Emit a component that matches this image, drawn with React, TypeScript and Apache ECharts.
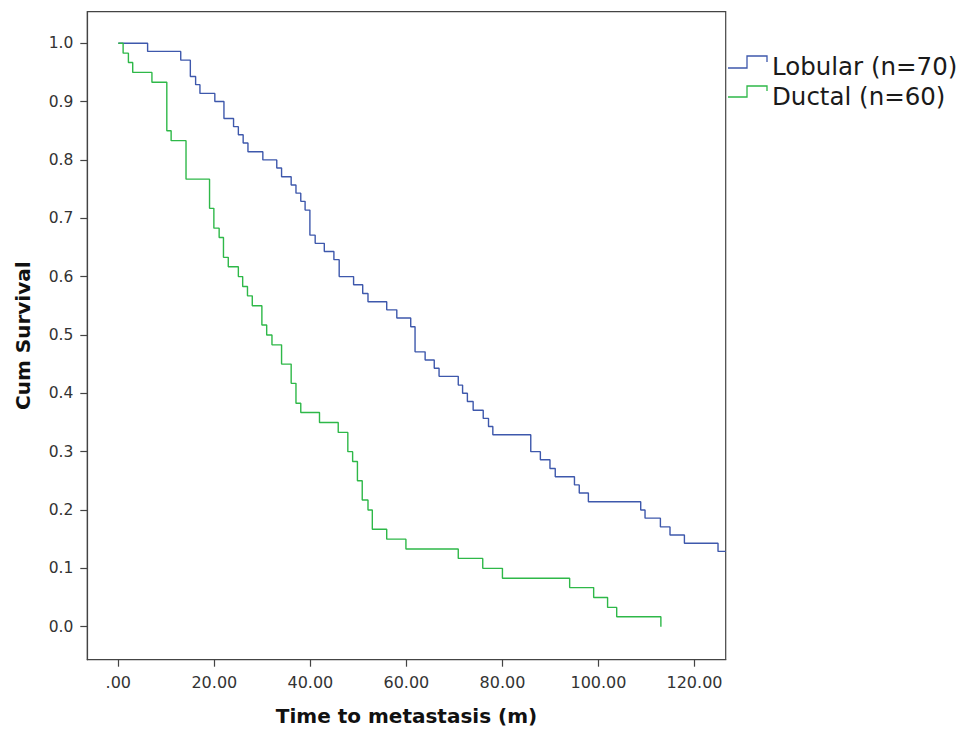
import React, { useEffect, useRef } from 'react';
import * as echarts from 'echarts';

// Kaplan-Meier step data (time in months, cumulative survival)
const lobularTimes = [0, 6.1, 13.0, 15.0, 16.1, 17.0, 20.1, 22.0, 24.0, 25.0, 26.0, 27.0, 30.1, 33.0, 34.0, 36.0, 37.0, 38.0, 38.9, 39.9, 41.0, 42.9, 44.9, 46.0, 49.0, 50.9, 52.0, 55.9, 58.0, 60.9, 61.8, 63.9, 65.8, 66.8, 70.8, 71.7, 72.7, 73.9, 76.0, 77.1, 78.0, 85.9, 87.9, 89.9, 91.0, 95.0, 96.0, 97.9, 108.8, 109.7, 112.9, 114.9, 117.9, 124.9, 126.5];
const lobularSurvival = [1.0, 0.986, 0.971, 0.943, 0.929, 0.914, 0.9, 0.871, 0.857, 0.843, 0.829, 0.814, 0.8, 0.786, 0.771, 0.757, 0.743, 0.729, 0.714, 0.671, 0.657, 0.643, 0.629, 0.6, 0.586, 0.571, 0.557, 0.543, 0.529, 0.514, 0.471, 0.457, 0.443, 0.429, 0.414, 0.4, 0.386, 0.371, 0.357, 0.343, 0.329, 0.3, 0.286, 0.271, 0.257, 0.243, 0.229, 0.214, 0.2, 0.186, 0.171, 0.157, 0.143, 0.129, 0.129];

const ductalTimes = [0, 1.0, 2.1, 3.0, 7.0, 10.1, 11.0, 14.1, 19.0, 19.9, 21.0, 21.9, 22.9, 25.0, 25.9, 26.9, 27.9, 29.9, 30.9, 32.0, 34.0, 36.0, 37.0, 38.0, 41.9, 45.8, 47.8, 48.8, 49.8, 50.8, 52.0, 52.9, 55.9, 59.9, 70.8, 75.9, 80.0, 94.0, 99.0, 101.9, 103.8, 113.0];
const ductalSurvival = [1.0, 0.983, 0.967, 0.95, 0.933, 0.85, 0.833, 0.767, 0.717, 0.683, 0.667, 0.633, 0.617, 0.6, 0.583, 0.567, 0.55, 0.517, 0.5, 0.483, 0.45, 0.417, 0.383, 0.367, 0.35, 0.333, 0.3, 0.283, 0.25, 0.217, 0.2, 0.167, 0.15, 0.133, 0.117, 0.1, 0.083, 0.067, 0.05, 0.033, 0.017, 0.0];

const seriesNames = ['Lobular (n=70)', 'Ductal (n=60)'];
const seriesColors = ['#3E58AC', '#2EB848'];

const xTickValues = [0, 20, 40, 60, 80, 100, 120];
const xTickLabels = ['.00', '20.00', '40.00', '60.00', '80.00', '100.00', '120.00'];
const yTickValues = [0, 0.1, 0.2, 0.3, 0.4, 0.5, 0.6, 0.7, 0.8, 0.9, 1.0];
const yTickLabels = ['0.0', '0.1', '0.2', '0.3', '0.4', '0.5', '0.6', '0.7', '0.8', '0.9', '1.0'];

const xAxisTitle = 'Time to metastasis (m)';
const yAxisTitle = 'Cum Survival';

const FONT = 'DejaVu Sans';
const AXIS_COLOR = '#444';

function labelFor(values: number[], labels: string[], v: number): string {
  for (let i = 0; i < values.length; i++) {
    if (Math.abs(values[i] - v) < 1e-6) return labels[i];
  }
  return '';
}

function pairs(xs: number[], ys: number[]): number[][] {
  return xs.map((x, i) => [x, ys[i]]);
}

export default function App() {
  const ref = useRef<HTMLDivElement>(null);

  useEffect(() => {
    if (!ref.current) return;
    const chart = echarts.init(ref.current, undefined, { renderer: 'svg' });

    const legendGraphics: any[] = [];
    const legendRows = [
      { yLow: 68, yHigh: 56, yRight: 62, yText: 66 },
      { yLow: 97, yHigh: 86, yRight: 91, yText: 96 },
    ];
    seriesNames.forEach((name, i) => {
      const r = legendRows[i];
      legendGraphics.push({
        type: 'polyline',
        shape: { points: [[728, r.yLow], [747, r.yLow], [747, r.yHigh], [767, r.yHigh], [767, r.yRight]] },
        style: { stroke: seriesColors[i], lineWidth: 1.3, fill: 'none' },
        silent: true,
      });
      legendGraphics.push({
        type: 'text',
        x: 772,
        y: r.yText,
        style: {
          text: name,
          fontSize: 24.5,
          fontFamily: FONT,
          fill: '#1a1a1a',
          verticalAlign: 'middle',
          align: 'left',
        },
        silent: true,
      });
    });

    chart.setOption({
      animation: false,
      backgroundColor: '#ffffff',
      grid: {
        left: 87.3,
        top: 11.7,
        right: 237.3,
        bottom: 73.3,
        show: true,
        borderColor: AXIS_COLOR,
        borderWidth: 1.2,
        backgroundColor: 'transparent',
        containLabel: false,
        outerBoundsMode: 'none',
      },
      xAxis: {
        type: 'value',
        min: -6.46,
        max: 126.5,
        name: xAxisTitle,
        nameLocation: 'middle',
        nameGap: 46,
        nameTextStyle: { fontFamily: FONT, fontSize: 20, fontWeight: 'bold', color: '#111' },
        axisLine: { show: true, onZero: false, lineStyle: { color: AXIS_COLOR, width: 1.2 } },
        axisTick: { show: true, length: 7, lineStyle: { color: AXIS_COLOR, width: 1.2 }, customValues: xTickValues },
        axisLabel: {
          show: true,
          customValues: xTickValues,
          margin: 15,
          fontFamily: FONT,
          fontSize: 16,
          color: '#333',
          formatter: (v: number) => labelFor(xTickValues, xTickLabels, v),
        },
        splitLine: { show: false },
      },
      yAxis: {
        type: 'value',
        min: -0.0566,
        max: 1.054,
        name: yAxisTitle,
        nameLocation: 'middle',
        nameGap: 54,
        nameRotate: 90,
        nameTextStyle: { fontFamily: FONT, fontSize: 20, fontWeight: 'bold', color: '#111' },
        axisLine: { show: true, onZero: false, lineStyle: { color: AXIS_COLOR, width: 1.2 } },
        axisTick: { show: true, length: 7, lineStyle: { color: AXIS_COLOR, width: 1.2 }, customValues: yTickValues },
        axisLabel: {
          show: true,
          customValues: yTickValues,
          margin: 14,
          fontFamily: FONT,
          fontSize: 15.5,
          color: '#333',
          formatter: (v: number) => labelFor(yTickValues, yTickLabels, v),
        },
        splitLine: { show: false },
      },
      series: [
        {
          name: seriesNames[0],
          type: 'line',
          step: 'end',
          symbol: 'none',
          clip: true,
          data: pairs(lobularTimes, lobularSurvival),
          lineStyle: { color: seriesColors[0], width: 1.4 },
          itemStyle: { color: seriesColors[0] },
        },
        {
          name: seriesNames[1],
          type: 'line',
          step: 'end',
          symbol: 'none',
          clip: true,
          data: pairs(ductalTimes, ductalSurvival),
          lineStyle: { color: seriesColors[1], width: 1.4 },
          itemStyle: { color: seriesColors[1] },
        },
      ],
      graphic: legendGraphics,
    });

    return () => {
      chart.dispose();
    };
  }, []);

  return (
    <div
      ref={ref}
      style={{ position: 'absolute', left: 0, top: 0, width: 963, height: 733 }}
    />
  );
}
